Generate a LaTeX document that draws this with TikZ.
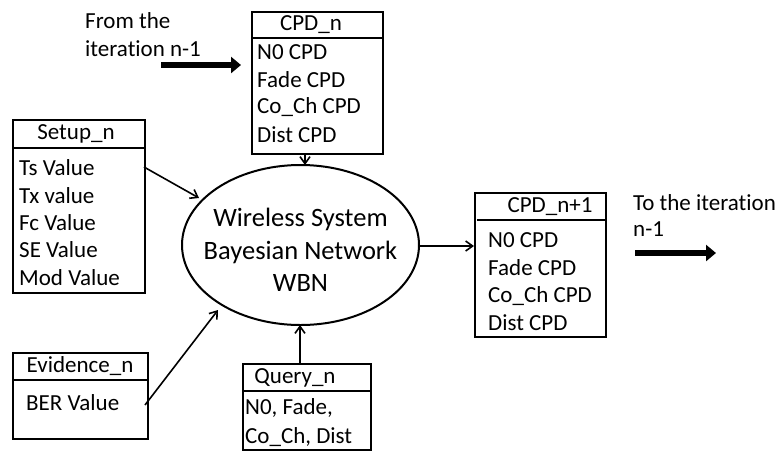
\documentclass[tikz,border=0pt]{standalone}
\usepackage{fontspec}
\setmainfont{Carlito}[Ligatures=NoCommon]
\usetikzlibrary{arrows.meta}
\begin{document}
\begin{tikzpicture}[x=1pt,y=-1pt,
  box/.style={draw,line width=2pt,anchor=north west,inner sep=0pt},
  hline/.style={line width=1.8pt},
  txt/.style={anchor=west,inner sep=0pt,font=\fontsize{23}{27}\selectfont},
  ttl/.style={inner sep=0pt,font=\fontsize{23}{27}\selectfont},
  conn/.style={line width=1.6pt,-{Straight Barb[length=7pt,width=10pt]}},
  big/.style={line width=5.5pt,-{Triangle[length=10pt,width=16pt]}}]
\useasboundingbox (0,0) rectangle (777,451);
% CPD_n
\node[box,minimum width=131pt,minimum height=142pt] (cpdn) at (251,11) {};
\draw[hline] (251,38) -- (382,38);
\node[ttl] (cpdnt) at (311,25) {CPD\_n};
\node[txt] (cpdn1) at (257,52) {N0 CPD};
\node[txt] (cpdn2) at (257,80) {Fade CPD};
\node[txt] (cpdn3) at (257,107) {Co\_Ch CPD};
\node[txt] (cpdn4) at (257,135) {Dist CPD};
% From label
\node[txt] (from1) at (85,21) {From the};
\node[txt] (from2) at (85,49) {iteration n-1};
\coordinate (fa) at (161,65);
\coordinate (fb) at (241,65);
\draw[big] (fa) -- (fb);
% Setup
\node[box,minimum width=132pt,minimum height=173pt] (setup) at (12,119) {};
\draw[hline] (14,148) -- (144,148);
\node[ttl] (setupt) at (76,134) {Setup\_n};
\node[txt] (s1) at (19,168) {Ts Value};
\node[txt] (s2) at (19,196) {Tx value};
\node[txt] (s3) at (19,223) {Fc Value};
\node[txt] (s4) at (19,250) {SE Value};
\node[txt] (s5) at (19,278) {Mod Value};
% Ellipse
\draw[line width=2pt] (300.5,245) ellipse [x radius=118.5, y radius=80];
\node[ttl,align=center,font=\fontsize{26.5}{32.5}\selectfont] (wbn) at (300.5,250) {Wireless System\\Bayesian Network\\WBN};
\coordinate (eN) at (305,165);
\coordinate (eE) at (419,246);
\coordinate (eS) at (300,325);
\coordinate (eNW) at (199,198);
\coordinate (eSW) at (218,310);
% CPD_n+1
\node[box,minimum width=131pt,minimum height=144pt] (cpdm) at (474,192) {};
\draw[hline] (477,220) -- (606,220);
\node[ttl] (cpdmt) at (550,207) {CPD\_n+1};
\node[txt] (m1) at (488,240) {N0 CPD};
\node[txt] (m2) at (488,268) {Fade CPD};
\node[txt] (m3) at (488,296) {Co\_Ch CPD};
\node[txt] (m4) at (488,323) {Dist CPD};
% To label
\node[txt] (to1) at (633,203) {To the iteration};
\node[txt] (to2) at (633,229) {n-1};
\coordinate (ta) at (635,253);
\coordinate (tb) at (716,253);
\draw[big] (ta) -- (tb);
% Evidence
\node[box,minimum width=135pt,minimum height=86pt] (evid) at (12,352) {};
\draw[hline] (12,380) -- (147,380);
\node[ttl] (evidt) at (80,366) {Evidence\_n};
\node[txt] (e1) at (26,403) {BER Value};
% Query
\node[box,minimum width=128pt,minimum height=86pt] (query) at (242,363) {};
\draw[hline] (242,391) -- (370,391);
\node[ttl] (queryt) at (295,378) {Query\_n};
\node[txt] (q1) at (245,408) {N0, Fade,};
\node[txt] (q2) at (245,437) {Co\_Ch, Dist};
% connectors
\coordinate (c1) at (305,153);
\draw[conn] (c1) -- (eN);
\coordinate (c2) at (144,167);
\draw[conn] (c2) -- (eNW);
\coordinate (c3) at (474,246);
\draw[conn] (eE) -- (c3);
\coordinate (c4) at (145,405);
\draw[conn] (c4) -- (eSW);
\coordinate (c5) at (300,363);
\draw[conn] (c5) -- (eS);
\end{tikzpicture}
\end{document}
